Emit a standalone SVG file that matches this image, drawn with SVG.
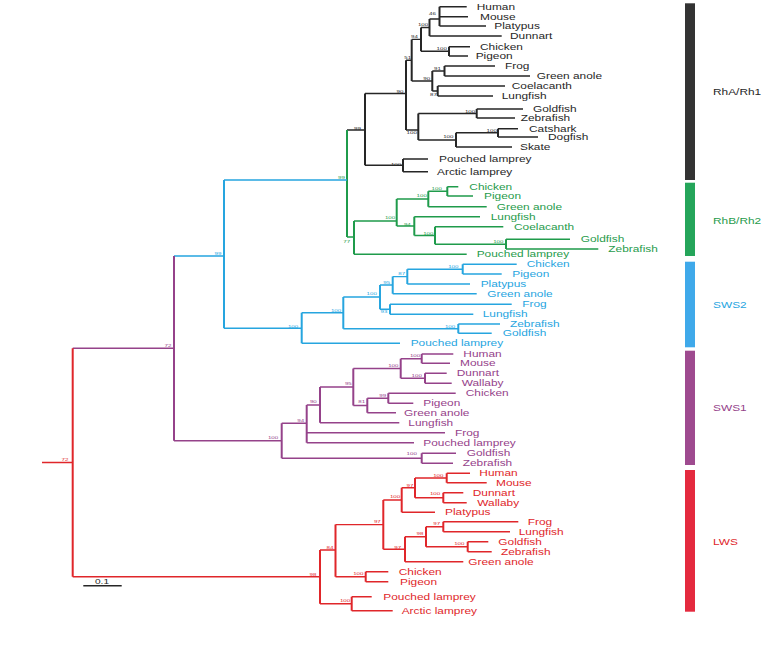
<svg xmlns="http://www.w3.org/2000/svg" width="780" height="661" viewBox="0 0 780 661">
<style>
text{font-family:"Liberation Sans",Arial,sans-serif;}
.lf{font-size:8.2px;}
.sp{font-size:4.4px;text-anchor:middle;}
.k{fill:#262626}.g{fill:#1f9b4b}.b{fill:#26a5df}.p{fill:#95428a}.r{fill:#e0262a}
.h{fill:none;stroke-width:1.4}
.v{fill:none;stroke-width:2}
.sk{stroke:#262626}.sg{stroke:#1f9b4b}.sb{stroke:#26a5df}.spp{stroke:#95428a}.sr{stroke:#e0262a}
</style>
<rect width="780" height="661" fill="#fff"/>
<g id="branches">
<path class="h sk" d="M439.5 6.7H466.7M439.5 16.7H468M439.5 26H486M429.5 36H501.7M429.5 19H439.5M449 46.7H470M449 56H468M421 27.5H429.5M421 51.3H449M444.5 66H495M444.5 76H530M437.7 86H505M437.7 96H493M432.3 71H444.5M432.3 91H437.7M411.7 39.4H421M411.7 81H432.3M406 60.2H411.7M476.7 109H523M476.7 118H515M498 128.7H518M498 137H538M456 147H512M456 132.8H498M418.3 113.5H476.7M418.3 140H456M406 130H418.3M365 93.5H406M403 159H428M403 171.7H428M365 165.3H403M347 130H365"/>
<path class="v sk" d="M439.5 6.7V26M429.5 19V36M449 46.7V56M421 27.5V51.3M444.5 66V76M437.7 86V96M432.3 71V91M411.7 39.4V81M476.7 109V118M498 128.7V137M456 132.8V147M418.3 113.5V140M406 60.2V130M403 159V171.7M365 93.5V165.3"/>
<path class="h sg" d="M447.3 186.7H458.3M447.3 196H473M428.3 191.3H447.3M428.3 206.7H486.7M414.3 216.7H480M435 226.7H503.3M506 239.3H570M506 249H598.3M435 244.2H506M414.3 235.5H435M396.7 199H428.3M396.7 226H414.3M354 221H396.7M354 254.3H466.7M347 237H354"/>
<path class="v sg" d="M447.3 186.7V196M428.3 191.3V206.7M506 239.3V249M435 226.7V244.2M414.3 216.7V235.5M396.7 199V226M354 221V254.3M347 130V237"/>
<path class="h sb" d="M224 180H347M462.7 264.3H516.7M462.7 274H501.7M407.3 269.2H462.7M407.3 284H470M392.7 276.6H407.3M392.7 293.7H476.7M380 285H392.7M390 304.3H511.7M390 314.3H473.3M380 309.3H390M343.3 297H380M458.3 324H500M458.3 333.3H491.7M343.3 328.7H458.3M301.7 312.7H343.3M301.7 343.3H400M224 328.3H301.7M174 256H224"/>
<path class="v sb" d="M462.7 264.3V274M407.3 269.2V284M392.7 276.6V293.7M390 304.3V314.3M380 285V309.3M458.3 324V333.3M343.3 297V328.7M301.7 312.7V343.3M224 180V328.3"/>
<path class="h spp" d="M72.7 348.3H174M174 440.7H281.7M421.7 354H453.3M421.7 363.3H450M425 373.3H446.7M425 383.3H451.7M400.7 358.7H421.7M400.7 378.3H425M388.3 393.3H455.7M388.3 403.3H413.3M367.3 398.3H388.3M367.3 412.7H396M353.3 368.5H400.7M353.3 405.5H367.3M320 387H353.3M320 422.7H399.3M306.7 405H320M306.7 432.7H445M306.7 442.7H414M281.7 423.3H306.7M421.7 453.3H456M421.7 463.3H453M281.7 458.3H421.7"/>
<path class="v spp" d="M174 256V440.7M421.7 354V363.3M425 373.3V383.3M400.7 358.7V378.3M388.3 393.3V403.3M367.3 398.3V412.7M353.3 368.5V405.5M320 387V422.7M306.7 405V442.7M421.7 453.3V463.3M281.7 423.3V458.3"/>
<path class="h sr" d="M42 462.5H72.7M72.7 576.7H320M446.7 473.3H470M446.7 482.7H486.7M443.3 492.7H463.3M443.3 502.7H466.7M415 478H446.7M415 497.7H443.3M401.7 487.8H415M401.7 512.3H435M443.3 521.7H518.3M443.3 531.7H510M467.7 541.7H488.3M467.7 551.7H491.7M426 526.7H443.3M426 546.7H467.7M405 536.7H426M405 561.7H463.3M383.3 500H401.7M383.3 549.2H405M335.5 524.6H383.3M365.7 571.7H388.3M365.7 581.7H388.3M335.5 576.7H365.7M320 550H335.5M351.7 596.7H371.7M351.7 610.7H392.7M320 603.7H351.7"/>
<path class="v sr" d="M72.7 348.3V576.7M446.7 473.3V482.7M443.3 492.7V502.7M415 478V497.7M401.7 487.8V512.3M443.3 521.7V531.7M467.7 541.7V551.7M426 526.7V546.7M405 536.7V561.7M383.3 500V549.2M365.7 571.7V581.7M335.5 524.6V576.7M351.7 596.7V610.7M320 550V603.7"/>
</g>
<g id="support-values">
<g class="k">
<text class="sp" transform="translate(432.5 14.8) scale(1.4 1)">46</text>
<text class="sp" transform="translate(423 25.5) scale(1.4 1)">100</text>
<text class="sp" transform="translate(414.5 38) scale(1.4 1)">94</text>
<text class="sp" transform="translate(441.7 49.8) scale(1.4 1)">100</text>
<text class="sp" transform="translate(407.7 58.5) scale(1.4 1)">51</text>
<text class="sp" transform="translate(437.5 69.8) scale(1.4 1)">91</text>
<text class="sp" transform="translate(426.7 79.8) scale(1.4 1)">90</text>
<text class="sp" transform="translate(433.5 95.5) scale(1.4 1)">87</text>
<text class="sp" transform="translate(400 92.5) scale(1.4 1)">90</text>
<text class="sp" transform="translate(470 113.2) scale(1.4 1)">100</text>
<text class="sp" transform="translate(491.7 131.5) scale(1.4 1)">100</text>
<text class="sp" transform="translate(448.3 138.2) scale(1.4 1)">100</text>
<text class="sp" transform="translate(411.7 134) scale(1.4 1)">100</text>
<text class="sp" transform="translate(357.5 130) scale(1.4 1)">99</text>
<text class="sp" transform="translate(396 166.2) scale(1.4 1)">100</text>
</g>
<g class="g">
<text class="sp" transform="translate(436.7 189.8) scale(1.4 1)">100</text>
<text class="sp" transform="translate(421.7 197) scale(1.4 1)">100</text>
<text class="sp" transform="translate(498.3 242.5) scale(1.4 1)">100</text>
<text class="sp" transform="translate(428.3 234.5) scale(1.4 1)">100</text>
<text class="sp" transform="translate(407.3 225.5) scale(1.4 1)">94</text>
<text class="sp" transform="translate(390 219) scale(1.4 1)">100</text>
<text class="sp" transform="translate(346.7 243.2) scale(1.4 1)">77</text>
<text class="sp" transform="translate(341.5 179) scale(1.4 1)">99</text>
</g>
<g class="b">
<text class="sp" transform="translate(218 255) scale(1.4 1)">99</text>
<text class="sp" transform="translate(453.3 267.5) scale(1.4 1)">100</text>
<text class="sp" transform="translate(401.7 275) scale(1.4 1)">87</text>
<text class="sp" transform="translate(386.7 283.8) scale(1.4 1)">95</text>
<text class="sp" transform="translate(384 313.2) scale(1.4 1)">93</text>
<text class="sp" transform="translate(371.7 295) scale(1.4 1)">100</text>
<text class="sp" transform="translate(450 328) scale(1.4 1)">100</text>
<text class="sp" transform="translate(336 311.5) scale(1.4 1)">100</text>
<text class="sp" transform="translate(293 327.5) scale(1.4 1)">100</text>
</g>
<g class="p">
<text class="sp" transform="translate(168 347) scale(1.4 1)">72</text>
<text class="sp" transform="translate(273 439) scale(1.4 1)">100</text>
<text class="sp" transform="translate(415 357.2) scale(1.4 1)">100</text>
<text class="sp" transform="translate(416.7 376.5) scale(1.4 1)">100</text>
<text class="sp" transform="translate(393.3 367.2) scale(1.4 1)">100</text>
<text class="sp" transform="translate(382.7 396.5) scale(1.4 1)">99</text>
<text class="sp" transform="translate(361.7 403.2) scale(1.4 1)">81</text>
<text class="sp" transform="translate(348.3 385) scale(1.4 1)">95</text>
<text class="sp" transform="translate(313.3 403.2) scale(1.4 1)">90</text>
<text class="sp" transform="translate(300.7 422.2) scale(1.4 1)">94</text>
<text class="sp" transform="translate(411.7 454.8) scale(1.4 1)">100</text>
</g>
<g class="r">
<text class="sp" transform="translate(65 460.5) scale(1.4 1)">72</text>
<text class="sp" transform="translate(313 575.5) scale(1.4 1)">98</text>
<text class="sp" transform="translate(330 548.8) scale(1.4 1)">84</text>
<text class="sp" transform="translate(438.3 476.5) scale(1.4 1)">100</text>
<text class="sp" transform="translate(435 494.8) scale(1.4 1)">100</text>
<text class="sp" transform="translate(410 486.5) scale(1.4 1)">97</text>
<text class="sp" transform="translate(395 498.2) scale(1.4 1)">100</text>
<text class="sp" transform="translate(436.7 524.8) scale(1.4 1)">97</text>
<text class="sp" transform="translate(459.3 544.8) scale(1.4 1)">100</text>
<text class="sp" transform="translate(420 535) scale(1.4 1)">98</text>
<text class="sp" transform="translate(397.7 548.5) scale(1.4 1)">97</text>
<text class="sp" transform="translate(377.3 523.2) scale(1.4 1)">97</text>
<text class="sp" transform="translate(358.3 574.8) scale(1.4 1)">100</text>
<text class="sp" transform="translate(345 602.2) scale(1.4 1)">100</text>
</g>
</g>
<g id="rh1-human" class="k"><text class="lf" transform="translate(476.7 9.6) scale(1.45 1)">Human</text></g>
<g id="rh1-mouse" class="k"><text class="lf" transform="translate(480 19.6) scale(1.45 1)">Mouse</text></g>
<g id="rh1-platypus" class="k"><text class="lf" transform="translate(494.3 28.9) scale(1.45 1)">Platypus</text></g>
<g id="rh1-dunnart" class="k"><text class="lf" transform="translate(510 38.9) scale(1.45 1)">Dunnart</text></g>
<g id="rh1-chicken" class="k"><text class="lf" transform="translate(480 49.6) scale(1.45 1)">Chicken</text></g>
<g id="rh1-pigeon" class="k"><text class="lf" transform="translate(475.7 58.9) scale(1.45 1)">Pigeon</text></g>
<g id="rh1-frog" class="k"><text class="lf" transform="translate(505 68.9) scale(1.45 1)">Frog</text></g>
<g id="rh1-anole" class="k"><text class="lf" transform="translate(536.7 78.9) scale(1.45 1)">Green anole</text></g>
<g id="rh1-coelacanth" class="k"><text class="lf" transform="translate(511.7 88.9) scale(1.45 1)">Coelacanth</text></g>
<g id="rh1-lungfish" class="k"><text class="lf" transform="translate(501.7 98.9) scale(1.45 1)">Lungfish</text></g>
<g id="rh1-goldfish" class="k"><text class="lf" transform="translate(533 111.9) scale(1.45 1)">Goldfish</text></g>
<g id="rh1-zebrafish" class="k"><text class="lf" transform="translate(520.7 120.9) scale(1.45 1)">Zebrafish</text></g>
<g id="rh1-catshark" class="k"><text class="lf" transform="translate(529 131.6) scale(1.45 1)">Catshark</text></g>
<g id="rh1-dogfish" class="k"><text class="lf" transform="translate(548 139.9) scale(1.45 1)">Dogfish</text></g>
<g id="rh1-skate" class="k"><text class="lf" transform="translate(520 149.9) scale(1.45 1)">Skate</text></g>
<g id="rh1-pouched-lamprey" class="k"><text class="lf" transform="translate(439 161.9) scale(1.45 1)">Pouched lamprey</text></g>
<g id="rh1-arctic-lamprey" class="k"><text class="lf" transform="translate(437 174.6) scale(1.45 1)">Arctic lamprey</text></g>
<g id="rh2-chicken" class="g"><text class="lf" transform="translate(469.3 189.6) scale(1.45 1)">Chicken</text></g>
<g id="rh2-pigeon" class="g"><text class="lf" transform="translate(484 198.9) scale(1.45 1)">Pigeon</text></g>
<g id="rh2-anole" class="g"><text class="lf" transform="translate(496.7 209.6) scale(1.45 1)">Green anole</text></g>
<g id="rh2-lungfish" class="g"><text class="lf" transform="translate(490.7 219.6) scale(1.45 1)">Lungfish</text></g>
<g id="rh2-coelacanth" class="g"><text class="lf" transform="translate(514 229.6) scale(1.45 1)">Coelacanth</text></g>
<g id="rh2-goldfish" class="g"><text class="lf" transform="translate(580.7 242.2) scale(1.45 1)">Goldfish</text></g>
<g id="rh2-zebrafish" class="g"><text class="lf" transform="translate(608.3 251.9) scale(1.45 1)">Zebrafish</text></g>
<g id="rh2-pouched-lamprey" class="g"><text class="lf" transform="translate(476.7 257.2) scale(1.45 1)">Pouched lamprey</text></g>
<g id="sws2-chicken" class="b"><text class="lf" transform="translate(526.7 267.2) scale(1.45 1)">Chicken</text></g>
<g id="sws2-pigeon" class="b"><text class="lf" transform="translate(512.3 276.9) scale(1.45 1)">Pigeon</text></g>
<g id="sws2-platypus" class="b"><text class="lf" transform="translate(480.7 286.9) scale(1.45 1)">Platypus</text></g>
<g id="sws2-anole" class="b"><text class="lf" transform="translate(487.3 296.6) scale(1.45 1)">Green anole</text></g>
<g id="sws2-frog" class="b"><text class="lf" transform="translate(522.3 307.2) scale(1.45 1)">Frog</text></g>
<g id="sws2-lungfish" class="b"><text class="lf" transform="translate(482.7 317.2) scale(1.45 1)">Lungfish</text></g>
<g id="sws2-zebrafish" class="b"><text class="lf" transform="translate(510 326.9) scale(1.45 1)">Zebrafish</text></g>
<g id="sws2-goldfish" class="b"><text class="lf" transform="translate(502.7 336.2) scale(1.45 1)">Goldfish</text></g>
<g id="sws2-pouched-lamprey" class="b"><text class="lf" transform="translate(410.7 346.2) scale(1.45 1)">Pouched lamprey</text></g>
<g id="sws1-human" class="p"><text class="lf" transform="translate(463.3 356.9) scale(1.45 1)">Human</text></g>
<g id="sws1-mouse" class="p"><text class="lf" transform="translate(460 366.2) scale(1.45 1)">Mouse</text></g>
<g id="sws1-dunnart" class="p"><text class="lf" transform="translate(456.7 376.2) scale(1.45 1)">Dunnart</text></g>
<g id="sws1-wallaby" class="p"><text class="lf" transform="translate(461.7 386.2) scale(1.45 1)">Wallaby</text></g>
<g id="sws1-chicken" class="p"><text class="lf" transform="translate(465.7 396.2) scale(1.45 1)">Chicken</text></g>
<g id="sws1-pigeon" class="p"><text class="lf" transform="translate(423.3 406.2) scale(1.45 1)">Pigeon</text></g>
<g id="sws1-anole" class="p"><text class="lf" transform="translate(404 415.6) scale(1.45 1)">Green anole</text></g>
<g id="sws1-lungfish" class="p"><text class="lf" transform="translate(408.3 425.6) scale(1.45 1)">Lungfish</text></g>
<g id="sws1-frog" class="p"><text class="lf" transform="translate(455 435.6) scale(1.45 1)">Frog</text></g>
<g id="sws1-pouched-lamprey" class="p"><text class="lf" transform="translate(423.3 445.6) scale(1.45 1)">Pouched lamprey</text></g>
<g id="sws1-goldfish" class="p"><text class="lf" transform="translate(466.7 456.2) scale(1.45 1)">Goldfish</text></g>
<g id="sws1-zebrafish" class="p"><text class="lf" transform="translate(462.7 466.2) scale(1.45 1)">Zebrafish</text></g>
<g id="lws-human" class="r"><text class="lf" transform="translate(479.3 476.2) scale(1.45 1)">Human</text></g>
<g id="lws-mouse" class="r"><text class="lf" transform="translate(496 485.6) scale(1.45 1)">Mouse</text></g>
<g id="lws-dunnart" class="r"><text class="lf" transform="translate(472.7 495.6) scale(1.45 1)">Dunnart</text></g>
<g id="lws-wallaby" class="r"><text class="lf" transform="translate(477.3 505.6) scale(1.45 1)">Wallaby</text></g>
<g id="lws-platypus" class="r"><text class="lf" transform="translate(445 515.2) scale(1.45 1)">Platypus</text></g>
<g id="lws-frog" class="r"><text class="lf" transform="translate(527.7 524.6) scale(1.45 1)">Frog</text></g>
<g id="lws-lungfish" class="r"><text class="lf" transform="translate(518.7 534.6) scale(1.45 1)">Lungfish</text></g>
<g id="lws-goldfish" class="r"><text class="lf" transform="translate(498.3 544.6) scale(1.45 1)">Goldfish</text></g>
<g id="lws-zebrafish" class="r"><text class="lf" transform="translate(501 554.6) scale(1.45 1)">Zebrafish</text></g>
<g id="lws-anole" class="r"><text class="lf" transform="translate(468.3 564.6) scale(1.45 1)">Green anole</text></g>
<g id="lws-chicken" class="r"><text class="lf" transform="translate(398.7 574.6) scale(1.45 1)">Chicken</text></g>
<g id="lws-pigeon" class="r"><text class="lf" transform="translate(400 584.6) scale(1.45 1)">Pigeon</text></g>
<g id="lws-pouched-lamprey" class="r"><text class="lf" transform="translate(383.3 599.6) scale(1.45 1)">Pouched lamprey</text></g>
<g id="lws-arctic-lamprey" class="r"><text class="lf" transform="translate(401.7 613.6) scale(1.45 1)">Arctic lamprey</text></g>
<g id="scale-bar">
<path d="M83.3 585.7H121.7" stroke="#262626" stroke-width="1.6"/>
<text class="k" style="font-size:7px;text-anchor:middle" transform="translate(102 583.5) scale(1.45 1)">0.1</text>
</g>
<g id="group-rh1"><rect x="685" y="3.3" width="10" height="176.7" fill="#333333"/><text class="lf k" transform="translate(713 94.9) scale(1.45 1)">RhA/Rh1</text></g>
<g id="group-rh2"><rect x="685" y="182.7" width="10" height="73.3" fill="#25a55a"/><text class="lf g" transform="translate(713 223.6) scale(1.45 1)">RhB/Rh2</text></g>
<g id="group-sws2"><rect x="685" y="261.7" width="10" height="85.6" fill="#3fa9ea"/><text class="lf b" transform="translate(713 307.9) scale(1.45 1)">SWS2</text></g>
<g id="group-sws1"><rect x="685" y="350.7" width="10" height="114.3" fill="#9e4a8f"/><text class="lf p" transform="translate(713 410.9) scale(1.45 1)">SWS1</text></g>
<g id="group-lws"><rect x="685" y="470" width="10" height="141.7" fill="#e42a3e"/><text class="lf r" transform="translate(713 544.6) scale(1.45 1)">LWS</text></g>
</svg>
